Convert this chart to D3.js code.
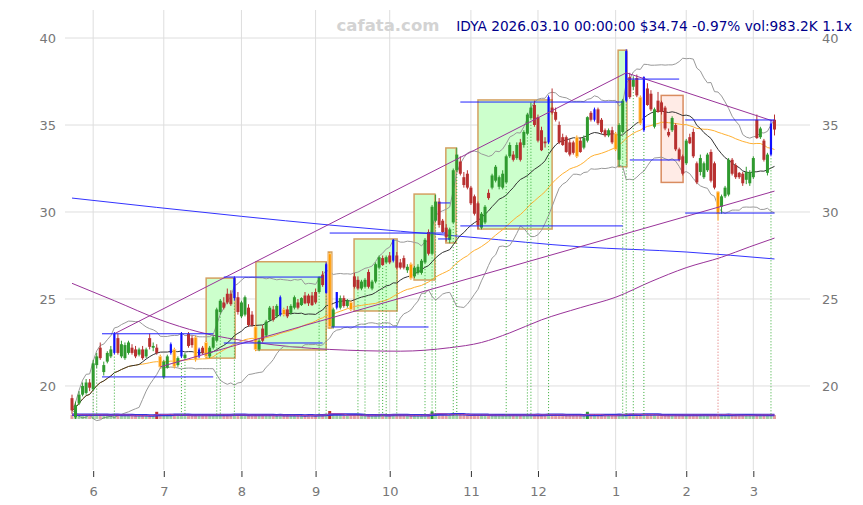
<!DOCTYPE html>
<html><head><meta charset="utf-8">
<script src="https://cdn.jsdelivr.net/npm/d3@7"></script>
<style>
html,body{margin:0;padding:0;background:#fff;}
svg{display:block;font-family:"DejaVu Sans",sans-serif;}
</style></head><body>
<svg id="c" width="863" height="505"></svg>
<script>
// ---- DATA: [open, high, low, close, volume(K), kind]  kind: B = blue signal candle, O = orange signal candle
const may = [[19.3,19.5,18.4,18.6,1100],[18.2,19.1,18.1,18.9,1500],[19.0,19.7,18.9,19.5,900],[19.5,20.2,19.4,20.0,1000],[19.6,20.4,19.5,20.2,1200],[20.2,20.4,19.7,19.9,800]];
const jun = [[19.8,21.5,19.7,21.3,1600],[21.2,21.9,21.0,21.7,1000],[22.2,22.5,21.5,21.6,900],[20.8,21.4,20.6,21.2,1000],[21.4,22.0,21.3,21.9,800],[21.7,22.3,21.6,22.1,900],[21.9,23.1,21.8,23.0,1500,"B"],[22.75,23.0,21.8,21.9,1200],[21.7,22.6,21.6,22.4,900],[21.6,22.5,21.5,22.35,800],[21.9,22.6,21.8,22.5,700],[22.2,22.4,21.8,21.9,700],[22.1,22.3,21.6,21.7,800],[21.8,22.2,21.7,22.1,600],[22.1,22.3,21.5,21.6,700],[21.7,22.2,21.6,22.1,800],[22.75,23.0,22.1,22.25,900],[22.2,22.5,22.0,22.3,600],[22.2,22.4,21.8,21.9,2600],[21.7,21.8,21.0,21.1,1100,"O"]];
const jul = [[20.5,21.5,20.4,21.4,1000],[21.05,21.8,21.0,21.7,900],[21.9,22.5,21.8,22.4,1200,"B"],[22.1,22.2,21.0,21.1,1100,"O"],[21.2,21.7,21.1,21.6,800],[21.7,23.1,21.6,23.0,1400,"B"],[21.6,21.9,21.5,21.8,800],[23.0,23.1,22.2,22.3,900],[22.75,22.9,22.2,22.35,800],[22.8,22.9,21.4,21.5,1100,"O"],[21.7,22.2,21.6,22.1,1000,"B"],[22.2,22.3,21.8,21.9,900],[22.5,22.6,21.6,21.7,1000,"O"],[21.7,22.3,21.6,22.2,1000],[22.2,22.9,22.1,22.8,1300],[22.6,24.5,22.5,24.4,1200],[24.25,25.0,24.1,24.9,1100],[24.8,25.1,24.4,24.5,900],[25.3,25.6,24.7,24.8,1000],[25.3,25.5,24.6,24.7,900],[25.05,26.3,24.9,26.2,1400,"B"],[25.1,25.4,24.1,24.25,1000]];
const aug = [[24.0,24.9,23.9,24.8,900],[24.1,25.2,24.0,25.1,1000],[24.5,24.7,23.4,23.5,1000],[24.1,24.3,23.4,23.5,800],[23.4,23.5,22.0,22.1,1300,"O"],[22.1,22.7,22.0,22.6,900],[23.3,23.5,22.5,22.6,800],[22.9,23.8,22.8,23.7,900],[23.8,24.6,23.7,24.5,1000],[24.4,24.6,23.7,23.8,800],[24.0,24.7,23.9,24.6,800],[24.1,25.2,24.0,25.1,1100,"B"],[24.4,24.5,24.0,24.1,900,"O"],[24.4,24.6,23.9,24.0,700],[24.2,24.7,24.1,24.6,700],[24.5,25.2,24.4,25.1,900],[24.8,25.0,24.4,24.5,700],[24.65,25.1,24.6,25.05,700],[25.2,25.4,24.7,24.75,800],[25.2,25.3,24.6,24.75,900],[25.2,25.4,24.6,24.65,800]];
const sep = [[25.4,25.6,24.7,24.8,900],[25.4,26.3,25.3,26.25,1200],[26.4,26.6,25.7,25.8,1000],[25.35,27.1,25.3,27.0,1500,"B"],[27.6,27.7,23.3,23.4,3000,"O"],[23.4,24.5,23.3,24.4,1400],[24.5,25.4,24.4,25.4,1200,"B"],[24.5,25.2,24.4,25.05,900],[25.05,25.2,24.5,24.6,800],[24.6,25.0,24.5,24.9,700],[24.8,24.9,24.3,24.4,900,"O"],[26.3,26.5,25.6,25.7,1100],[26.1,26.3,25.5,25.6,900],[25.6,26.1,25.5,26.0,800],[25.7,26.2,25.6,26.1,800],[26.55,26.7,25.6,25.7,900],[25.6,26.1,25.5,26.0,800],[26.0,27.1,25.9,27.0,1200],[26.8,27.5,26.7,27.4,1100],[27.35,27.5,26.9,26.95,900],[27.1,27.5,27.0,27.4,800]];
const oct = [[27.5,27.7,27.0,27.1,900],[27.2,28.45,27.1,28.4,1400,"B"],[27.5,27.7,26.7,26.8,900],[27.1,27.3,26.7,26.8,800],[27.35,27.5,26.7,26.8,800],[26.65,27.0,26.5,26.85,700],[27.0,27.1,26.1,26.2,900,"O"],[26.3,26.9,26.2,26.8,800],[26.5,27.0,26.4,26.85,700],[26.5,27.3,26.4,27.2,900],[27.1,28.5,27.0,28.4,1400],[28.85,29.0,27.5,27.6,1200],[27.6,30.4,27.5,30.3,2800],[29.5,31.0,29.4,30.6,1600],[30.6,30.8,29.1,29.25,1200],[29.5,29.6,28.8,28.85,1000],[29.1,29.3,28.3,28.55,900],[28.4,29.1,28.2,29.0,800],[29.4,32.5,29.3,32.4,1800],[32.4,33.7,32.3,33.3,1500],[32.9,33.2,32.1,32.2,1100],[32.0,32.3,31.4,31.55,1000],[32.2,32.4,31.3,31.4,1000]];
const nov = [[31.4,31.5,30.4,30.5,1000],[30.9,31.0,29.8,29.9,1100],[30.5,30.6,29.0,29.25,1200],[29.1,30.0,29.0,29.9,1000],[29.4,30.4,29.3,30.3,900],[31.1,31.3,30.7,30.8,900],[31.4,32.2,31.3,32.1,1000],[31.8,32.7,31.7,32.6,1000],[31.45,32.1,31.3,32.0,800],[31.4,32.4,31.3,32.2,800],[31.7,33.3,31.6,33.2,1200],[33.2,34.0,33.1,33.85,1100],[33.3,33.5,32.9,33.0,800],[33.1,34.0,33.0,33.85,900],[34.0,34.2,32.9,33.0,900],[33.85,34.7,33.7,34.6,1100],[34.5,35.7,34.4,35.6,1300],[35.4,36.3,35.3,36.0,1200],[36.15,36.4,34.9,35.0,1100]];
const dec = [[35.45,35.6,34.0,34.1,1100],[34.7,34.9,33.5,33.55,1000],[34.05,34.3,33.7,33.95,800],[34.0,36.7,33.9,36.6,1600,"B"],[36.0,37.1,35.6,35.7,1200],[35.75,36.0,35.2,35.3,900],[35.0,35.2,33.9,34.0,1000],[34.3,34.5,33.8,33.85,800],[34.3,34.4,33.4,33.45,900],[34.0,34.2,33.2,33.3,800],[34.0,34.1,33.3,33.4,800],[34.3,34.4,33.1,33.2,1000,"O"],[34.1,34.3,33.4,33.45,800],[33.7,34.4,33.6,34.25,900],[34.1,35.5,34.0,35.45,2600],[35.7,35.8,35.2,35.3,900],[35.3,36.0,35.2,35.9,1000,"B"],[35.9,36.0,35.0,35.1,900],[35.3,35.4,34.5,34.6,800],[34.7,34.8,34.3,34.4,700],[34.4,34.8,34.3,34.7,700],[34.7,34.9,33.9,34.0,800]];
const jan = [[34.5,34.6,33.5,33.6,1000,"O"],[33.0,35.1,32.6,35.0,1300],[34.6,36.5,34.5,36.4,1400],[36.4,39.35,36.3,39.25,2000,"B"],[37.75,38.0,36.5,36.6,1400],[37.2,37.8,37.0,37.6,1000],[37.7,37.9,36.6,36.7,1000],[36.6,36.7,35.0,35.1,1200,"O"],[34.7,37.8,34.6,37.75,1600,"B"],[37.1,37.4,36.1,36.15,1100],[36.8,37.0,35.8,35.9,1000],[34.9,36.0,34.8,35.9,900],[36.4,36.9,35.7,35.75,900],[36.3,36.4,35.6,35.75,800],[36.0,36.1,34.7,34.8,1000],[34.6,34.8,34.3,34.4,800],[34.7,35.5,34.6,35.4,900],[35.0,35.1,33.5,33.6,1100],[33.6,33.7,32.9,33.0,1000],[33.2,33.3,32.1,32.2,1100]];
const feb = [[32.8,34.2,32.7,34.1,1100],[34.3,34.5,33.9,33.95,900],[34.6,34.8,33.1,33.2,1000],[32.8,32.9,31.6,31.7,1200],[32.3,33.3,32.1,33.1,900],[32.0,32.9,31.9,32.8,800],[32.4,33.4,32.3,33.3,900],[33.45,33.6,31.7,31.8,1100],[32.8,32.9,31.3,31.4,1000],[31.15,31.2,29.5,29.9,1400,"O"],[30.3,31.0,29.9,30.9,1300],[30.9,31.5,30.8,31.4,1000],[31.0,33.1,30.9,33.0,1100],[33.0,33.1,32.1,32.2,900],[32.7,32.8,31.9,32.0,800],[32.25,32.3,31.9,32.0,800],[32.2,32.3,31.5,31.65,900],[31.85,32.6,31.6,32.3,800],[31.65,32.4,31.5,32.3,900]];
const mar = [[32.0,33.2,31.9,33.1,1000],[35.3,35.6,34.2,34.25,1500],[34.3,34.9,34.2,34.8,900],[34.1,34.2,32.9,33.0,1000],[32.25,33.4,32.1,33.3,900],[33.3,35.3,33.2,35.08,1300,"B"],[35.3,35.6,34.4,34.74,983.2]];

const holidays = ["2025-05-26","2025-06-19","2025-07-04","2025-09-01","2025-11-27","2025-12-25","2026-01-01","2026-01-19","2026-02-16"];
const firstDay = "2025-05-22";
const monthTicks = ["6","7","8","9","10","11","12","1","2","3"];
const yTicks = [20,25,30,35,40];

// long-period line (purple) and long trend line (blue), read as [candle index, value]
const longMA = [[0,25.9],[12,24.9],[25,23.8],[36,23.1],[52,22.5],[73,22.1],[93,22.0],[107,22.2],[116,22.5],[124,23.05],[133,23.8],[144,24.5],[154,25.1],[164,26.0],[174,26.8],[184,27.4],[192,28.0],[199,28.5]];
const longTrend = [[0,30.8],[48,29.75],[73,29.25],[113,28.55],[144,28.0],[174,27.7],[199,27.3]];
// trend lines [index, value]
const upperTrend = [[12,23.0],[157,38.0],[199,35.2]];
const lowerTrend = [[25,21.1],[199,31.2]];
// levels [fromIndex, toIndex, value]
const levels = [[8.5,40,23.0],[8.5,40,20.52],[43,71,26.26],[43,71,22.47],[73,105.7,28.79],[73.5,101,23.39],[103.7,107.1,30.52],[103.7,107.1,28.45],[110,156,36.32],[110,156,29.2],[157,172,37.64],[158,172.2,32.99],[173.7,199,35.29],[173.7,199,29.94]];
// boxes [fromIndex, toIndex, top, bottom, kind]
const boxes = [[38,46.2,26.2,21.6,"up"],[52.1,72,27.14,22.07,"up"],[72.6,73.6,27.7,23.33,"up"],[79.9,92.1,28.45,24.31,"up"],[96.9,102.8,31.03,26.09,"up"],[105.9,108.8,33.68,28.22,"up"],[115,136,36.44,29.02,"up"],[154.7,157.2,39.3,32.6,"up"],[166.9,173.1,36.7,31.7,"down"]];
// signal candles (dotted lines)
const upSignals = [6,7,12,31,32,41,42,46,70,72,81,83,87,88,89,92,100,102,103,108,109,123,129,130,135,156,157,159,162,198];
const downSignals = [183];

const watermark = "cafata.com";
const titleText = "IDYA 2026.03.10 00:00:00 $34.74 -0.97% vol:983.2K 1.1x";

// ---- BUILD
const rows = [].concat(may,jun,jul,aug,sep,oct,nov,dec,jan,feb,mar);
const hol = new Set(holidays);
const fmt = d3.timeFormat("%Y-%m-%d");
const dates = [];
let cur = d3.timeParse("%Y-%m-%d")(firstDay);
while (dates.length < rows.length) {
  const dw = cur.getDay();
  if (dw !== 0 && dw !== 6 && !hol.has(fmt(cur))) dates.push(new Date(cur));
  cur = d3.timeDay.offset(cur, 1);
}
const data = rows.map((r,i)=>({i, date:dates[i], o:r[0], h:r[1], l:r[2], c:r[3], v:r[4], k:r[5]||""}));

const svg = d3.select("#c");
const x = d3.scaleLinear().domain([0, data.length-1]).range([72, 774.5]);
const y = d3.scaleLinear().domain([15.17, 41.61]).range([470, 10]);
const plotL=65, plotR=810, plotT=10, plotB=470;

// month ticks
const tickIdx = [];
for (let i=1;i<data.length;i++) if (data[i].date.getMonth()!==data[i-1].date.getMonth()) tickIdx.push(i);

// grid
const g = svg.append("g");
g.selectAll(".hg").data(yTicks).join("line")
  .attr("x1",plotL).attr("x2",plotR).attr("y1",d=>y(d)).attr("y2",d=>y(d))
  .attr("stroke","#dedede").attr("stroke-width",1);
g.selectAll(".vg").data(tickIdx).join("line")
  .attr("x1",d=>x(d)).attr("x2",d=>x(d)).attr("y1",plotT).attr("y2",plotB)
  .attr("stroke","#dedede").attr("stroke-width",1);

// axes labels
const axL = d3.axisLeft(y).tickValues(yTicks).tickSize(0).tickPadding(0);
const gl = svg.append("g").attr("transform","translate(56,0)").call(axL);
const axR = d3.axisRight(y).tickValues(yTicks).tickSize(0).tickPadding(0);
const gr = svg.append("g").attr("transform","translate(822,0)").call(axR);
const axB = d3.axisBottom(x).tickValues(tickIdx).tickFormat((d,i)=>monthTicks[i]).tickSize(6).tickPadding(10);
const gb = svg.append("g").attr("transform","translate(0,471)").call(axB);
[gl,gr,gb].forEach(a=>{ a.select(".domain").remove(); a.selectAll("text").attr("fill","#777").attr("font-size","13px").attr("font-family","DejaVu Sans, sans-serif"); });
gb.selectAll(".tick line").attr("stroke","#333");

// boxes
svg.append("g").selectAll("rect").data(boxes).join("rect")
  .attr("x",d=>x(d[0])).attr("width",d=>x(d[1])-x(d[0]))
  .attr("y",d=>y(d[2])).attr("height",d=>y(d[3])-y(d[2]))
  .attr("fill",d=>d[4]==="up"?"#ccffcc":"#ffebe6")
  .attr("stroke",d=>d[4]==="up"?"#d4a060":"#d98c60").attr("stroke-width",1.5);

// indicators computed from closes
const closes = data.map(d=>d.c);
function sma(a,n){return a.map((_,i)=>d3.mean(a.slice(Math.max(0,i-n+1),i+1)));}
function sdev(a,n){return a.map((_,i)=>{const s=a.slice(Math.max(0,i-n+1),i+1);const m=d3.mean(s);return Math.sqrt(d3.mean(s,v=>(v-m)*(v-m)));});}
const ma20 = sma(closes,20), sd20 = sdev(closes,20), ma40 = sma(closes,40);
const line = d3.line().x(d=>x(d[0])).y(d=>y(d[1]));
const sline = d3.line().x(d=>x(d[0])).y(d=>y(d[1])).curve(d3.curveMonotoneX);
const L = svg.append("g").attr("fill","none");
L.append("path").attr("d",sline(longTrend)).attr("stroke","#3333ff").attr("stroke-width",1);
L.append("path").attr("d",sline(longMA)).attr("stroke","#993399").attr("stroke-width",1);
L.append("path").attr("d",line(ma20.map((m,i)=>[i,m+2*sd20[i]]))).attr("stroke","#999").attr("stroke-width",1);
L.append("path").attr("d",line(ma20.map((m,i)=>[i,m-2*sd20[i]]))).attr("stroke","#999").attr("stroke-width",1);
L.append("path").attr("d",line(ma40.map((m,i)=>[i,m]))).attr("stroke","#ffb030").attr("stroke-width",1);
L.append("path").attr("d",line(ma20.map((m,i)=>[i,m]))).attr("stroke","#333").attr("stroke-width",1);

// volume
const volBase = 419;
const vh = d3.scaleLinear().domain([0,3000]).range([2,8]);
const V = svg.append("g");
V.selectAll("rect").data(data).join("rect")
  .attr("x",d=>x(d.i)-1.5).attr("width",3)
  .attr("y",d=>volBase-vh(d.v)).attr("height",d=>vh(d.v))
  .attr("fill",d=>d.c>=d.o?"#2f9a2f":"#c03030")
  .attr("opacity",d=>d.v>=2400?1:0.45);
const vols = data.map(d=>d.v);
const vma5 = sma(vols,5), vma10 = sma(vols,10);
V.append("path").attr("fill","none").attr("stroke","#3333dd").attr("stroke-width",2.5)
  .attr("d",d3.line().x((v,i)=>x(i)).y(v=>volBase-vh(v))(vma10));
V.append("path").attr("fill","none").attr("stroke","#aa44aa").attr("stroke-width",1)
  .attr("d",d3.line().x((v,i)=>x(i)).y(v=>volBase-vh(v))(vma5));

// signal dotted lines
const S = svg.append("g");
S.selectAll(".su").data(upSignals).join("line")
  .attr("x1",i=>x(i)).attr("x2",i=>x(i)).attr("y1",i=>y(data[i].l)+2).attr("y2",volBase-3)
  .attr("stroke","#33aa33").attr("stroke-width",1).attr("stroke-dasharray","1,2");
S.selectAll(".sd").data(downSignals).join("line")
  .attr("x1",i=>x(i)).attr("x2",i=>x(i)).attr("y1",i=>y(data[i].l)+2).attr("y2",volBase-3)
  .attr("stroke","#dd6666").attr("stroke-width",1).attr("stroke-dasharray","1,2");

// candles
function col(d){ if(d.k==="B") return "#1010ff"; if(d.k==="O") return "#ff9900"; return d.c>=d.o?"#2f9a2f":"#b83030"; }
const C = svg.append("g");
C.selectAll("line").data(data).join("line")
  .attr("x1",d=>x(d.i)).attr("x2",d=>x(d.i)).attr("y1",d=>y(d.h)).attr("y2",d=>y(d.l))
  .attr("stroke",col).attr("stroke-width",1);
C.selectAll("rect").data(data).join("rect")
  .attr("x",d=>x(d.i)-(d.k==="B"?1.1:1.5)).attr("width",d=>d.k==="B"?2.2:3)
  .attr("y",d=>y(Math.max(d.o,d.c))).attr("height",d=>Math.max(1,Math.abs(y(d.o)-y(d.c))))
  .attr("fill",col)
  .attr("stroke",d=>d.k==="O"?"#ffd090":"none").attr("stroke-width",d=>d.k==="O"?0.8:0);

// trend lines & levels
const T = svg.append("g").attr("fill","none");
T.append("path").attr("d",line(upperTrend)).attr("stroke","#993399").attr("stroke-width",1);
T.append("path").attr("d",line(lowerTrend)).attr("stroke","#993399").attr("stroke-width",1);
T.selectAll("line").data(levels).join("line")
  .attr("x1",d=>x(d[0])).attr("x2",d=>x(d[1])).attr("y1",d=>y(d[2])).attr("y2",d=>y(d[2]))
  .attr("stroke","#2020ff").attr("stroke-width",1);

// titles
svg.append("text").attr("x",388).attr("y",31).attr("text-anchor","middle")
  .attr("font-size","16.5px").attr("font-weight","bold").attr("fill","#d3d3d3").text(watermark);
svg.append("text").attr("x",852).attr("y",30.5).attr("text-anchor","end")
  .attr("font-size","13.7px").attr("fill","#00008b").text(titleText);
</script>
</body></html>
